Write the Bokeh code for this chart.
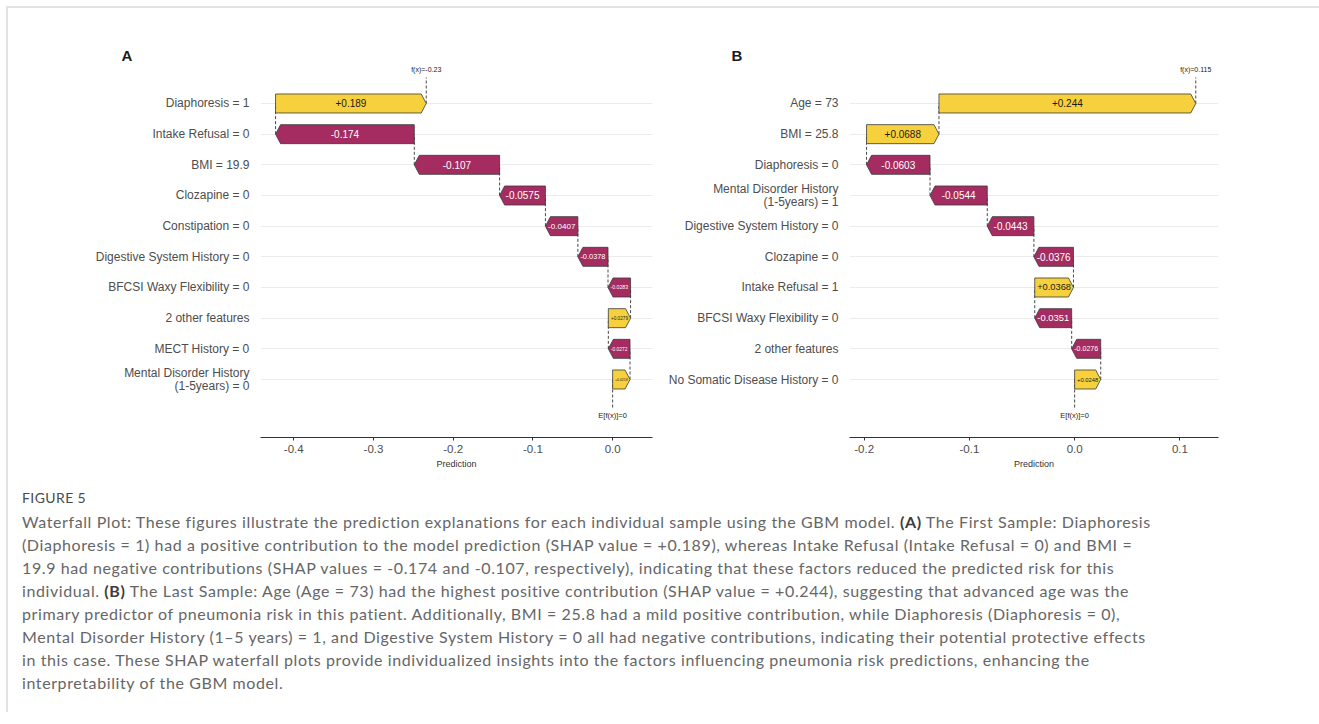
from bokeh.plotting import figure
from bokeh.models import Range1d, FixedTicker, ColumnDataSource, Div, Title
from bokeh.layouts import row, column
from bokeh.embed import file_html
from bokeh.resources import INLINE
from bokeh.core.properties import value

# ---------------- data ----------------
features_a = ["Diaphoresis = 1", "Intake Refusal = 0", "BMI = 19.9", "Clozapine = 0",
              "Constipation = 0", "Digestive System History = 0", "BFCSI Waxy Flexibility = 0",
              "2 other features", "MECT History = 0", "Mental Disorder History\n(1-5years) = 0"]
shap_a = [0.189, -0.174, -0.107, -0.0575, -0.0407, -0.0378, -0.0283, 0.0279, -0.0272, 0.0218]
base_a = 0.0
fx_label_a = "f(x)=-0.23"
ex_label_a = "E[f(x)]=0"
ticks_a = [-0.4, -0.3, -0.2, -0.1, 0.0]
tick_labels_a = ["-0.4", "-0.3", "-0.2", "-0.1", "0.0"]

features_b = ["Age = 73", "BMI = 25.8", "Diaphoresis = 0", "Mental Disorder History\n(1-5years) = 1",
              "Digestive System History = 0", "Clozapine = 0", "Intake Refusal = 1",
              "BFCSI Waxy Flexibility = 0", "2 other features", "No Somatic Disease History = 0"]
shap_b = [0.244, 0.0688, -0.0603, -0.0544, -0.0443, -0.0376, 0.0368, -0.0351, -0.0276, 0.0248]
base_b = 0.0
fx_label_b = "f(x)=0.115"
ex_label_b = "E[f(x)]=0"
ticks_b = [-0.2, -0.1, 0.0, 0.1]
tick_labels_b = ["-0.2", "-0.1", "0.0", "0.1"]

caption_title = "FIGURE 5"
caption_lines = [
    "Waterfall Plot: These figures illustrate the prediction explanations for each individual sample using the GBM model. <b>(A)</b> The First Sample: Diaphoresis",
    "(Diaphoresis = 1) had a positive contribution to the model prediction (SHAP value = +0.189), whereas Intake Refusal (Intake Refusal = 0) and BMI =",
    "19.9 had negative contributions (SHAP values = -0.174 and -0.107, respectively), indicating that these factors reduced the predicted risk for this",
    "individual. <b>(B)</b> The Last Sample: Age (Age = 73) had the highest positive contribution (SHAP value = +0.244), suggesting that advanced age was the",
    "primary predictor of pneumonia risk in this patient. Additionally, BMI = 25.8 had a mild positive contribution, while Diaphoresis (Diaphoresis = 0),",
    "Mental Disorder History (1\u20135 years) = 1, and Digestive System History = 0 all had negative contributions, indicating their potential protective effects",
    "in this case. These SHAP waterfall plots provide individualized insights into the factors influencing pneumonia risk predictions, enhancing the",
    "interpretability of the GBM model.",
]

POS = "#f7d13d"
NEG = "#a52c60"
FONT = "Liberation Sans"
CHAR_EM = {"0": .556, "1": .556, "2": .556, "3": .556, "4": .556, "5": .556, "6": .556,
           "7": .556, "8": .556, "9": .556, ".": .278, "-": .333, "+": .584}


def text_em(s):
    return sum(CHAR_EM.get(c, .556) for c in s)


def make_panel(letter, title_offset, features, shap, base, fx_label, ex_label,
               ticks, tick_labels, x0, x1, width, mbl, mbr):
    n = len(features)
    height = 472
    mbt, mbb = 58, 43
    px_per_unit = (width - mbl - mbr) / (x1 - x0)
    tip = 5.0 / px_per_unit
    h = 0.31

    ys = [n - i for i in range(n)]
    starts = [0.0] * n
    ends = [0.0] * n
    cum = base
    for i in range(n - 1, -1, -1):
        starts[i] = cum
        cum = cum + shap[i]
        ends[i] = cum
    fx = cum

    xs_poly, ys_poly, fills, labels, lx, tcol, tsize = [], [], [], [], [], [], []
    for i in range(n):
        a, b, y = starts[i], ends[i], ys[i]
        sgn = 1 if b >= a else -1
        d = min(tip, abs(b - a))
        xs_poly.append([a, b - sgn * d, b, b - sgn * d, a])
        ys_poly.append([y - h, y - h, y, y + h, y + h])
        fills.append(POS if sgn > 0 else NEG)
        lab = f"{shap[i]:+.3g}"
        labels.append(lab)
        lx.append((a + b) / 2)
        tcol.append("#1a1a1a" if sgn > 0 else "#ffffff")
        wpx = abs(b - a) * px_per_unit
        fs = min(10.0, max(3.5, (wpx - 5) / text_em(lab)))
        tsize.append(f"{fs:.1f}px")

    p = figure(width=width, height=height, x_range=Range1d(x0, x1),
               y_range=Range1d(-0.891, n + 1.206), output_backend="svg",
               toolbar_location=None, min_border_left=mbl, min_border_right=mbr,
               min_border_top=mbt, min_border_bottom=mbb)
    p.title = Title(text=letter, align="left", offset=title_offset, standoff=5,
                    text_font=FONT, text_font_size="15px", text_font_style="bold",
                    text_color="#1a1a1a")
    p.outline_line_color = None
    p.background_fill_color = "white"
    p.border_fill_color = "white"

    # grid
    p.xgrid.grid_line_color = None
    p.ygrid.ticker = FixedTicker(ticks=ys)
    p.ygrid.grid_line_color = "#ebebeb"
    p.ygrid.grid_line_width = 1

    # connectors (center of one bar to center of next)
    cx, cy0, cy1 = [], [], []
    for i in range(1, n):
        cx.append(ends[i])
        cy0.append(ys[i])
        cy1.append(ys[i - 1])
    p.segment(x0=cx, y0=cy0, x1=cx, y1=cy1, line_color="#333333",
              line_width=0.9, line_dash="3 2")
    p.segment(x0=[fx, base], y0=[ys[0], ys[-1]], x1=[fx, base],
              y1=[ys[0] + 0.85, ys[-1] - 0.95], line_color="#333333",
              line_width=0.9, line_dash="3 2")

    src = ColumnDataSource(dict(xs=xs_poly, ys=ys_poly, fill=fills))
    p.patches("xs", "ys", source=src, fill_color="fill", line_color="#3a3a3a",
              line_width=0.8)

    tsrc = ColumnDataSource(dict(x=lx, y=ys, t=labels, c=tcol, s=tsize))
    p.text("x", "y", text="t", source=tsrc, text_color="c", text_font_size="s",
           text_font=value(FONT), text_align="center", text_baseline="middle")

    p.text(x=[fx], y=[ys[0] + 1.11], text=[fx_label], text_font=value(FONT),
           text_font_size="7px", text_color="#222222", text_align="center",
           text_baseline="middle")
    p.text(x=[base], y=[ys[-1] - 1.17], text=[ex_label], text_font=value(FONT),
           text_font_size="7.5px", text_color="#222222", text_align="center",
           text_baseline="middle")

    # x axis
    xa = p.xaxis[0]
    xa.ticker = FixedTicker(ticks=ticks)
    xa.major_label_overrides = {t: l for t, l in zip(ticks, tick_labels)}
    xa.axis_line_color = "#333333"
    xa.axis_line_width = 1
    xa.major_tick_line_color = "#333333"
    xa.major_tick_out = 3
    xa.major_tick_in = 0
    xa.minor_tick_line_color = None
    xa.major_label_text_font = FONT
    xa.major_label_text_font_size = "11.5px"
    xa.major_label_text_color = "#4d4d4d"
    xa.major_label_standoff = 4
    xa.axis_label = "Prediction"
    xa.axis_label_text_font = FONT
    xa.axis_label_text_font_size = "9px"
    xa.axis_label_text_font_style = "normal"
    xa.axis_label_text_color = "#333333"
    xa.axis_label_standoff = 3

    # y axis
    ya = p.yaxis[0]
    ya.ticker = FixedTicker(ticks=ys)
    ya.major_label_overrides = {y: f for y, f in zip(ys, features)}
    ya.axis_line_color = None
    ya.major_tick_line_color = None
    ya.minor_tick_line_color = None
    ya.major_label_text_font = FONT
    ya.major_label_text_font_size = "12px"
    ya.major_label_text_line_height = 0.95
    ya.major_label_text_color = "#4d4d4d"
    ya.major_label_standoff = 5
    return p


pA = make_panel("A", -139, features_a, shap_a, base_a, fx_label_a, ex_label_a,
                ticks_a, tick_labels_a, -0.4417, 0.05, 657, 252, 13)
pB = make_panel("B", -118, features_b, shap_b, base_b, fx_label_b, ex_label_b,
                ticks_b, tick_labels_b, -0.2139, 0.1367, 646, 183, 93)

cap_html = (
    '<div style="font-family:Lato, \'Open Sans\', sans-serif; padding-left:9px;">'
    f'<div style="font-size:14px; line-height:20px; margin-top:3px; color:#4a4a4a; letter-spacing:0.4px;">{caption_title}</div>'
    '<div style="font-size:16px; font-weight:400; line-height:23px; margin-top:2px; color:#666666; '
    'letter-spacing:0.6px; white-space:nowrap;">'
    + "<br>".join(l.replace("<b>", '<b style="color:#3c3c3c; font-weight:700">') for l in caption_lines)
    + "</div></div>"
)
cap = Div(text=cap_html, width=1303, height=222)

layout = column(row(pA, pB), cap, margin=(6, 0, 0, 6),
                styles={"border-top": "2px solid #e2e2e2", "border-left": "2px solid #e2e2e2",
                        "background-color": "white"})

open("out.html", "w").write(file_html(layout, INLINE))
